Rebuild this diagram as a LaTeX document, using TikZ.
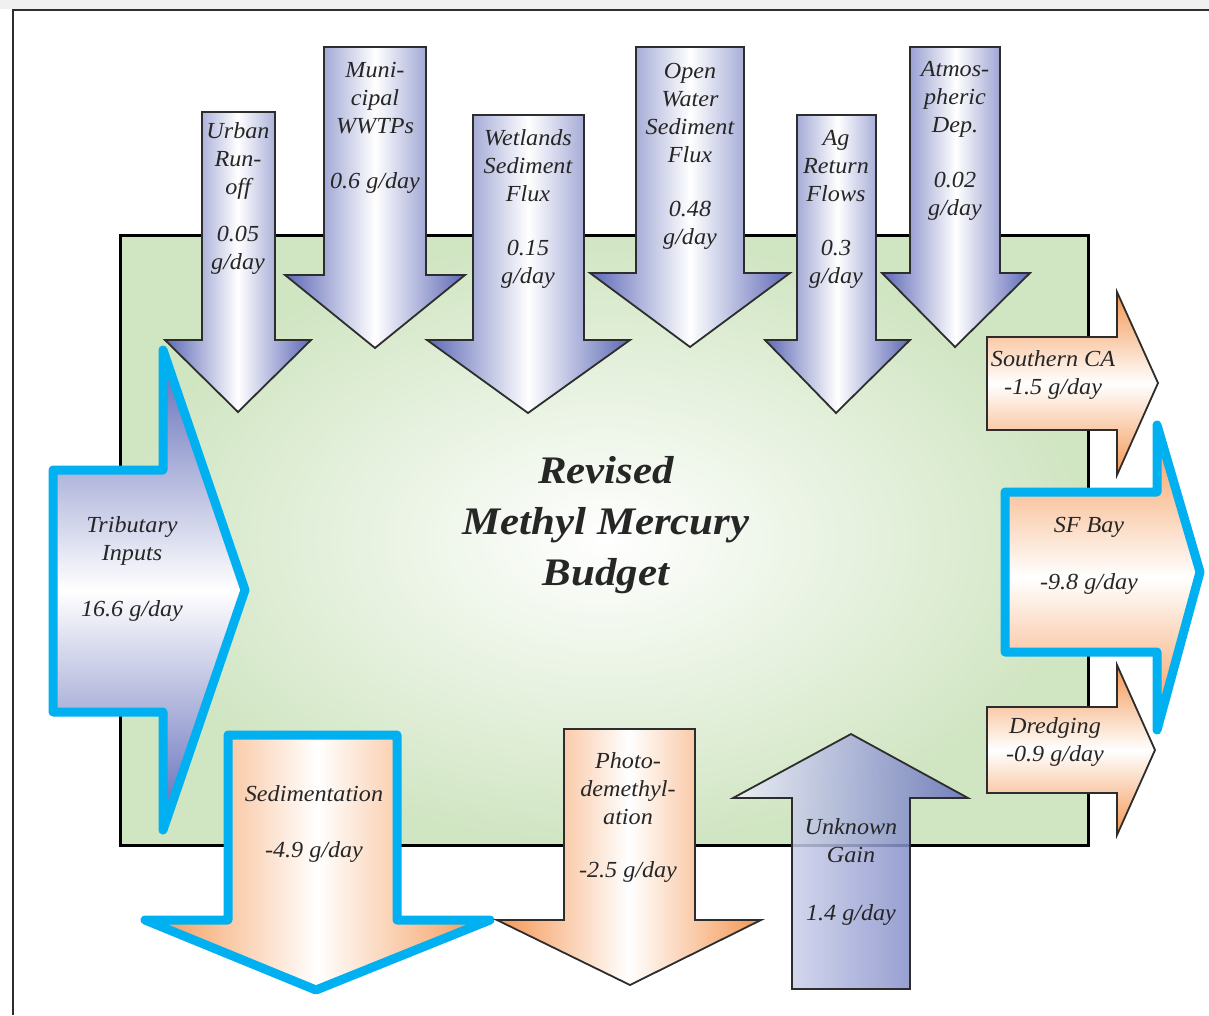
\documentclass[tikz,border=0pt]{standalone}
\usepackage{fontspec}
\newfontfamily\lblfont[FakeStretch=1.05]{Liberation Serif}
\newfontfamily\ttlfont[FakeStretch=1.1]{Liberation Serif}
\definecolor{bdark}{RGB}{92,104,182}
\definecolor{odark}{RGB}{244,150,82}
\definecolor{grn}{RGB}{208,229,194}
\definecolor{cyanline}{RGB}{0,176,240}
\definecolor{txt}{RGB}{38,38,38}
\definecolor{edge}{RGB}{45,45,45}
\definecolor{ulight}{RGB}{238,240,250}
\definecolor{udark}{RGB}{100,112,186}
\tikzset{
  downblue/.style={draw=edge, line width=1.8pt, line join=miter, left color=bdark, right color=bdark, middle color=white},
  downorange/.style={draw=edge, line width=1.8pt, line join=miter, left color=odark, right color=odark, middle color=white},
  rightorange/.style={draw=edge, line width=1.8pt, line join=miter, top color=odark, bottom color=odark, middle color=white},
  hilite/.style={draw=cyanline, line width=9pt, line join=round},
  lbl/.style={font=\lblfont\itshape\fontsize{23}{28}\selectfont, text=txt, align=center, inner sep=0pt},
  ttl/.style={font=\ttlfont\bfseries\itshape\fontsize{39}{51}\selectfont, text=black!85, align=center, inner sep=0pt},
}
\begin{document}
\begin{tikzpicture}[x=1pt,y=-1pt]
\useasboundingbox (0,0) rectangle (1209,1015);
\fill[white] (0,0) rectangle (1209,1015);
\fill[black!6] (0,0) rectangle (1209,9);
\draw[edge, line width=1.5pt] (13,1015) -- (13,10) -- (1209,10);

% central budget box
\path[draw=black, line width=3pt, inner color=white, outer color=grn] (120,235) rectangle (1088,845);

% inflow arrows from the top
\path[downblue] (202,112) -- (275,112) -- (275,340) -- (311,340) -- (238,412) -- (165,340) -- (202,340) -- cycle;
\path[downblue] (324,47) -- (426,47) -- (426,275) -- (465,275) -- (375,348) -- (285,275) -- (324,275) -- cycle;
\path[downblue] (473,115) -- (584,115) -- (584,340) -- (630,340) -- (528,413) -- (427,340) -- (473,340) -- cycle;
\path[downblue] (636,47) -- (744,47) -- (744,273) -- (790,273) -- (690,347) -- (590,273) -- (636,273) -- cycle;
\path[downblue] (797,115) -- (876,115) -- (876,340) -- (910,340) -- (836,413) -- (765,340) -- (797,340) -- cycle;
\path[downblue] (910,47) -- (1000,47) -- (1000,273) -- (1030,273) -- (955,347) -- (882,273) -- (910,273) -- cycle;

% outflows to the right
\path[rightorange] (987,337) -- (1117,337) -- (1117,292) -- (1158,383) -- (1117,475) -- (1117,430) -- (987,430) -- cycle;
\path[rightorange] (987,707) -- (1117,707) -- (1117,665) -- (1155,750) -- (1117,835) -- (1117,793) -- (987,793) -- cycle;
\path[hilite, top color=odark, bottom color=odark, middle color=white] (1005,492) -- (1157,492) -- (1157,425) -- (1200,572) -- (1157,730) -- (1157,652) -- (1005,652) -- cycle;

% tributary inputs
\path[hilite, top color=bdark, bottom color=bdark, middle color=white] (53,470) -- (163,470) -- (163,350) -- (245,590) -- (163,830) -- (163,712) -- (53,712) -- cycle;

% outflows at the bottom
\path[hilite, left color=odark, right color=odark, middle color=white] (228,735) -- (397,735) -- (397,920) -- (490,920) -- (316,990) -- (145,920) -- (228,920) -- cycle;
\path[downorange] (564,729) -- (695,729) -- (695,920) -- (761,920) -- (630,985) -- (497,920) -- (564,920) -- cycle;

% unknown gain
\path[draw=edge, line width=1.8pt, line join=miter, left color=ulight, right color=udark, fill opacity=0.85] (792,989) -- (910,989) -- (910,798) -- (968,798) -- (851,734) -- (733,798) -- (792,798) -- cycle;

% labels
\node[lbl] (urbanN) at (238,161) {Urban\\Run-\\off};
\node[lbl] (urbanV) at (238,250) {0.05\\g/day};
\node[lbl] (muniN) at (375,98) {Muni-\\cipal\\WWTPs};
\node[lbl] (muniV) at (375,183) {0.6 g/day};
\node[lbl] (wetN) at (528,166) {Wetlands\\Sediment\\Flux};
\node[lbl] (wetV) at (528,264) {0.15\\g/day};
\node[lbl] (openN) at (690,113) {Open\\Water\\Sediment\\Flux};
\node[lbl] (openV) at (690,225) {0.48\\g/day};
\node[lbl] (agN) at (836,166) {Ag\\Return\\Flows};
\node[lbl] (agV) at (836,264) {0.3\\g/day};
\node[lbl] (atmN) at (955,99) {Atmos-\\pheric\\Dep.};
\node[lbl] (atmV) at (955,196) {0.02\\g/day};
\node[lbl] (socal) at (1053,375) {Southern CA\\-1.5 g/day};
\node[lbl] (sfN) at (1089,527) {SF Bay};
\node[lbl] (sfV) at (1089,584) {-9.8 g/day};
\node[lbl] (dredge) at (1055,742) {Dredging\\-0.9 g/day};
\node[lbl] (tribN) at (132,541) {Tributary\\Inputs};
\node[lbl] (tribV) at (132,611) {16.6 g/day};
\node[lbl] (sedN) at (314,794) {Sedimentation};
\node[lbl] (sedV) at (314,852) {-4.9 g/day};
\node[lbl] (photoN) at (628,789) {Photo-\\demethyl-\\ation};
\node[lbl] (photoV) at (628,872) {-2.5 g/day};
\node[lbl] (unkN) at (851,841) {Unknown\\Gain};
\node[lbl] (unkV) at (851,915) {1.4 g/day};

% title
\node[ttl] (title) at (606,525) {Revised\\Methyl Mercury\\Budget};
\end{tikzpicture}
\end{document}
